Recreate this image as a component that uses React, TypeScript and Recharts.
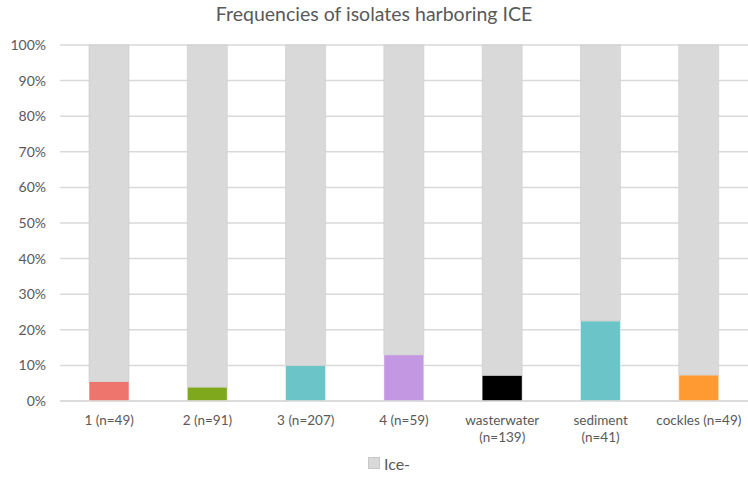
import React from 'react';
import { BarChart, Bar, XAxis, YAxis, CartesianGrid, Legend, Cell } from 'recharts';

// isolate groups shown along the x axis
const groups = ['1 (n=49)', '2 (n=91)', '3 (n=207)', '4 (n=59)', 'wasterwater (n=139)', 'sediment (n=41)', 'cockles (n=49)'];
// share of isolates carrying ICE, percent
const icePlus = [5.5, 3.9, 10.0, 13.0, 7.2, 22.5, 7.3];
// share of isolates without ICE, percent
const iceMinus = [94.5, 96.1, 90.0, 87.0, 92.8, 77.5, 92.7];
const groupColors = ['#EE746E', '#7FA81C', '#6BC5C8', '#C397E2', '#000000', '#6BC5C8', '#FF9A33'];
const yTicks = [0, 10, 20, 30, 40, 50, 60, 70, 80, 90, 100];

const data = groups.map((name, i) => ({ name, icePlus: icePlus[i], iceMinus: iceMinus[i] }));

const FONT = 'Lato, "Open Sans", sans-serif';
const TEXT = '#595959';
const GRID = '#D9D9D9';

// wrap long category names onto two lines, like the spreadsheet does
const CategoryTick = (props: any) => {
  const { x, y, payload } = props;
  const label: string = payload.value;
  let lines = [label];
  if (label.length > 14) {
    const cut = label.lastIndexOf(' ');
    lines = [label.slice(0, cut), label.slice(cut + 1)];
  }
  return (
    <g transform={`translate(${x},${y})`}>
      {lines.map((line, i) => (
        <text key={i} x={0} y={i * 17} dy={16} textAnchor="middle" fill={TEXT} fontSize={13.5} fontFamily={FONT}>
          {line}
        </text>
      ))}
    </g>
  );
};

// legend sits centred under the plot area, not the whole chart
const LegendContent = () => (
  <div style={{ display: 'flex', justifyContent: 'center', alignItems: 'center', height: 36, paddingLeft: 30, fontFamily: FONT, color: TEXT, fontSize: 16 }}>
    <span style={{ width: 10, height: 10, background: GRID, border: '1px solid #C8C8C8', marginRight: 4, display: 'inline-block' }} />
    <span>Ice-</span>
  </div>
);

export default function App() {
  return (
    <div style={{ position: 'absolute', left: 0, top: 0, width: 748, height: 481, background: '#fff' }}>
      <div style={{ position: 'absolute', top: 2, width: 748, textAlign: 'center', fontFamily: FONT, fontSize: 19.5, color: TEXT }}>
        Frequencies of isolates harboring ICE
      </div>
      <BarChart width={748} height={481} data={data} margin={{ top: 45, right: 0, bottom: 0, left: 0 }} barSize={40}>
        <CartesianGrid vertical={false} stroke={GRID} strokeWidth={1.5} />
        <XAxis dataKey="name" interval={0} height={44} tickLine={false} axisLine={{ stroke: GRID, strokeWidth: 1.5 }} tick={<CategoryTick />} />
        <YAxis
          domain={[0, 100]}
          ticks={yTicks}
          width={60}
          axisLine={false}
          tickLine={false}
          tickMargin={8}
          tickFormatter={(v: number) => `${v}%`}
          tick={{ fill: TEXT, fontSize: 14, fontFamily: FONT }}
        />
        <Legend verticalAlign="bottom" height={36} content={<LegendContent />} />
        <Bar dataKey="icePlus" stackId="a" legendType="none" isAnimationActive={false} stroke="#ffffff" strokeOpacity={0.5}>
          {data.map((_, i) => (
            <Cell key={i} fill={groupColors[i]} />
          ))}
        </Bar>
        <Bar dataKey="iceMinus" name="Ice-" stackId="a" fill={GRID} stroke="#C9C9C9" strokeOpacity={0.6} isAnimationActive={false} />
      </BarChart>
    </div>
  );
}
